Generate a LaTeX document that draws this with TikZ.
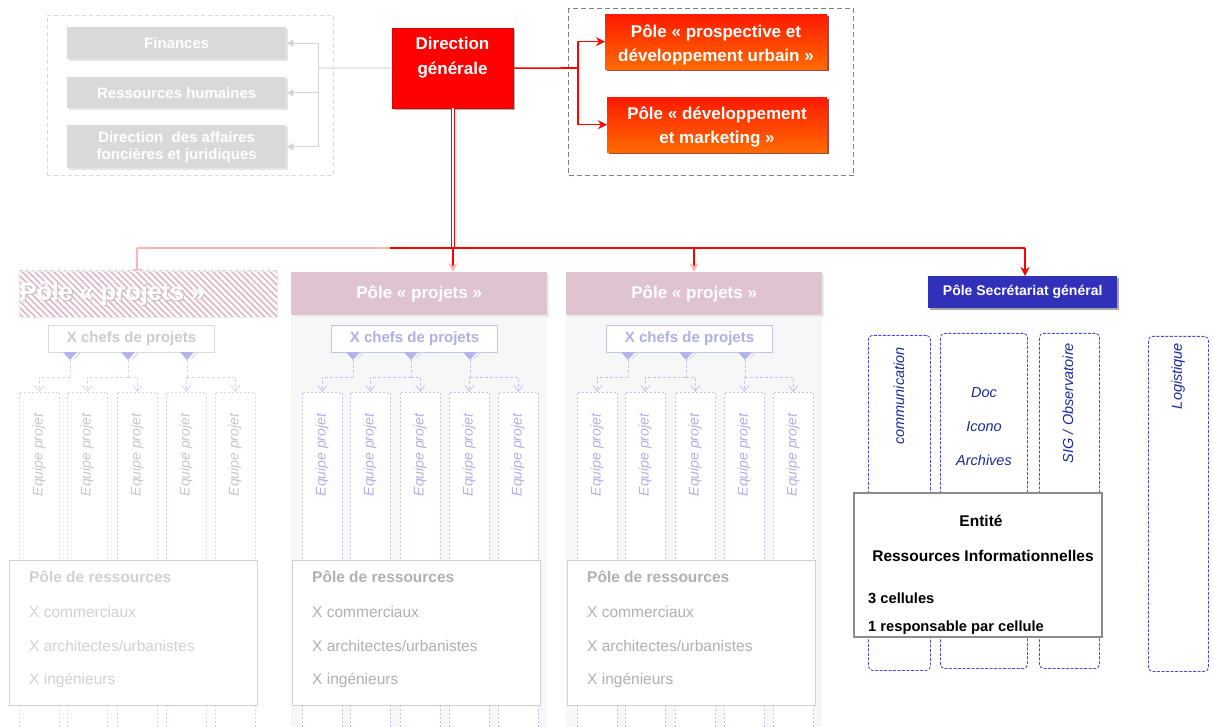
\documentclass[tikz,border=0pt]{standalone}
\usepackage{fontspec}
\setmainfont{Liberation Sans}
\usetikzlibrary{arrows.meta,shadows,patterns.meta}
\definecolor{grayfill}{HTML}{D9D9D9}
\definecolor{dgred}{HTML}{FF0000}
\definecolor{ored}{HTML}{FF1A00}
\definecolor{oorange}{HTML}{FF6A00}
\definecolor{pinkhead}{HTML}{DFC3D0}
\definecolor{pinkhatch}{HTML}{E2B8C8}
\definecolor{pinkline}{HTML}{FFB4B4}
\definecolor{panelbg}{HTML}{F7F7F7}
\definecolor{lavtxt}{HTML}{B0B0E4}
\definecolor{lavline}{HTML}{C4C4F0}
\definecolor{lavtri}{HTML}{B4B4EA}
\definecolor{lavpale}{HTML}{D6D6F4}
\definecolor{sgblue}{HTML}{3030B8}
\definecolor{colblue}{HTML}{4A4AE0}
\definecolor{txtblue}{HTML}{1A2A9A}
\tikzset{
  gbox/.style={fill=grayfill, text=white, font=\bfseries\fontsize{15}{17}\selectfont, align=center,
    anchor=north west, minimum width=219pt, inner sep=0pt,
    drop shadow={shadow xshift=1.5pt, shadow yshift=-1.5pt, fill=black!10, opacity=1}},
  dgbox/.style={fill=dgred, draw=red!85!black, anchor=north west, minimum width=121pt,
    minimum height=80pt, inner sep=0pt,
    drop shadow={shadow xshift=2pt, shadow yshift=-2pt, fill=black!30, opacity=1}},
  dgtext/.style={text=white, font=\bfseries\fontsize{17}{25}\selectfont, align=center, inner sep=0pt},
  obox/.style={top color=ored, bottom color=oorange, anchor=north west, minimum height=55pt, inner sep=0pt,
    drop shadow={shadow xshift=2pt, shadow yshift=-2pt, fill=red!45!black, opacity=.7}},
  otext/.style={text=white, font=\bfseries\fontsize{17}{24}\selectfont, align=center, inner sep=0pt},
  phead/.style={fill=pinkhead, text=white, font=\bfseries\fontsize{17}{20}\selectfont,
    anchor=north west, minimum width=256pt, minimum height=43pt, inner sep=0pt,
    drop shadow={shadow xshift=1.5pt, shadow yshift=-1.5pt, fill=black!8, opacity=1}},
  chefbox/.style={fill=white, line width=1pt, font=\bfseries\fontsize{15}{17}\selectfont,
    anchor=north west, minimum width=166pt, minimum height=27pt, inner sep=0pt},
  eqcol/.style={fill=white, anchor=north west, minimum width=40pt, minimum height=335pt, inner sep=0pt,
    dash pattern=on 2pt off 2pt, line width=0.7pt},
  eqtxt/.style={rotate=90, font=\itshape\fontsize{14}{16}\selectfont, inner sep=0pt},
  dcon/.style={dash pattern=on 3pt off 2pt, line width=0.8pt},
  resbox/.style={fill=white, draw=black!18, line width=1.2pt, anchor=north west,
    minimum width=248pt, minimum height=145pt, inner sep=0pt},
  restitle/.style={anchor=west, inner sep=0pt, font=\bfseries\fontsize{15.5}{17}\selectfont},
  resitem/.style={anchor=west, inner sep=0pt, font=\fontsize{15.5}{17}\selectfont},
  sgcol/.style={anchor=north west, draw=colblue, dash pattern=on 3pt off 1.5pt, line width=0.8pt,
    rounded corners=4pt, inner sep=0pt, minimum height=335pt},
  sgtxt/.style={text=txtblue, font=\itshape\fontsize{14.5}{16}\selectfont, inner sep=0pt},
  garrow/.style={draw=black!17, line width=1pt, -{Latex[length=7pt,width=8pt]}},
  rarrow/.style={draw=red, line width=1.6pt, -{Stealth[length=9pt,width=9pt]}},
}
\newcommand\ProjPanel[7]{%
  \node[chefbox, draw=#6, text=#7] (chefs#1) at ({331+#2},325) {X chefs de projets};
  \foreach \ti/\tx in {1/353,2/411,3/470}{
    \fill[lavtri] ({\tx+#2-7},352) -- ({\tx+#2+7},352) -- ({\tx+#2},360) -- cycle;
    \draw[black!13, line width=1.3pt] ({\tx+#2+4},359) -- ({\tx+#2+11},352);
    \coordinate (t#1\ti) at ({\tx+#2},360);
    \coordinate (j#1\ti) at ({\tx+#2},377);
  }
  \foreach \ci/\cx in {1/302,2/350,3/400,4/449,5/498}{
    \node[eqcol, draw=#4] (eq#1\ci) at ({\cx+#2},392) {};
    \node[eqtxt, text=#3] (eqt#1\ci) at ({\cx+#2+20},455) {Equipe projet};
  }
  \draw[dcon, draw=#4] (t#11) -- (j#11);
  \draw[dcon, draw=#4, -{Straight Barb[length=6pt,width=9pt]}] (j#11) -| (eq#11.north);
  \draw[dcon, draw=#4] (t#12) -- (j#12);
  \draw[dcon, draw=#4, -{Straight Barb[length=6pt,width=9pt]}] (j#12) -| (eq#12.north);
  \draw[dcon, draw=#4, -{Straight Barb[length=6pt,width=9pt]}] (j#12) -| (eq#13.north);
  \draw[dcon, draw=#4] (t#13) -- (j#13);
  \draw[dcon, draw=#4, -{Straight Barb[length=6pt,width=9pt]}] (j#13) -| (eq#14.north);
  \draw[dcon, draw=#4, -{Straight Barb[length=6pt,width=9pt]}] (j#13) -| (eq#15.north);
  \node[resbox] (res#1) at ({292+#2},560) {};
  \node[restitle, text=#5] (rt#1) at ({312+#2},577) {Pôle de ressources};
  \node[resitem, text=#5] (rc#1) at ({312+#2},612) {X commerciaux};
  \node[resitem, text=#5] (ra#1) at ({312+#2},646) {X architectes/urbanistes};
  \node[resitem, text=#5] (ri#1) at ({312+#2},680) {X ingénieurs};
}
\begin{document}
\begin{tikzpicture}[x=1pt,y=-1pt]
\useasboundingbox (0,0) rectangle (1213,727);
\fill[white] (0,0) rectangle (1213,727);

% ---------- left support group ----------
\node[draw=black!15, dash pattern=on 4pt off 3pt, line width=0.8pt, anchor=north west,
  minimum width=286pt, minimum height=160pt, inner sep=0pt] (grpl) at (47,15) {};
\node[gbox, minimum height=32pt] (fin) at (67,27) {Finances};
\node[gbox, minimum height=31pt] (rh) at (67,77) {Ressources humaines};
\node[gbox, minimum height=43pt, font=\bfseries\fontsize{15}{17}\selectfont] (daf) at (67,125)
  {Direction~ des affaires\\foncières et juridiques};

% ---------- direction générale ----------
\node[dgbox] (dg) at (392,28) {};
\node[dgtext] (dgt) at (452.5,58) {Direction\\générale};
\coordinate (jl) at (318,68);
\draw[draw=black!17, line width=1pt] (dg.west) -- (jl);
\draw[garrow] (jl) |- (fin.east);
\draw[garrow] (jl) |- (rh.east);
\draw[garrow] (jl) |- (daf.east);

% ---------- right poles ----------
\node[draw=black!50, dash pattern=on 5pt off 3pt, line width=1.2pt, anchor=north west,
  minimum width=285pt, minimum height=167pt, inner sep=0pt] (grpr) at (568,8) {};
\node[obox, minimum width=222pt] (pp1) at (605,14) {};
\node[otext] (pp1t) at (716,45) {Pôle « prospective et\\développement urbain »};
\node[obox, minimum width=220pt] (pp2) at (607,97) {};
\node[otext] (pp2t) at (717,127) {Pôle « développement\\et marketing »};
\coordinate (jr) at (578,68);
\draw[red, line width=1.6pt] (dg.east) -- (jr);
\draw[rarrow] (jr) |- (pp1.west);
\draw[rarrow] (jr) |- (pp2.west);

% ---------- panels backgrounds & headers ----------
\fill[panelbg] (291,315) rectangle (547,727);
\fill[panelbg] (566,315) rectangle (822,727);
\node[anchor=north west, minimum width=258pt, minimum height=46pt, inner sep=0pt,
  pattern={Lines[angle=-45,distance=4.5pt,line width=1.7pt]}, pattern color=pinkhatch,
  draw=black!8] (h1) at (18,270) {};
\node[anchor=west, inner sep=0pt, text=black!25, font=\bfseries\fontsize{25}{28}\selectfont]
  (h1s) at ([xshift=3pt,yshift=-1pt]h1.west) {Pôle « projets »};
\node[anchor=west, inner sep=0pt, text=white, font=\bfseries\fontsize{25}{28}\selectfont]
  (h1t) at ([xshift=2pt]h1.west) {Pôle « projets »};
\node[phead] (h2) at (291,272) {Pôle « projets »};
\node[phead] (h3) at (566,272) {Pôle « projets »};
\node[fill=sgblue, text=white, font=\bfseries\fontsize{14}{16}\selectfont, anchor=north west,
  minimum width=189pt, minimum height=32pt, inner sep=0pt,
  drop shadow={shadow xshift=2pt, shadow yshift=-2pt, fill=black!35, opacity=1}]
  (sg) at (928,276) {Pôle Secrétariat général};

% ---------- distribution bar ----------
\coordinate (jb) at (453,248);
\coordinate (b1) at (137,248);
\coordinate (bm) at (390,248);
\coordinate (b3) at (694,248);
\coordinate (b4) at (1025,248);
\draw[red, line width=1pt, double=white, double distance=1.6pt] (dg.south -| jb) -- (jb);
\draw[pinkline, line width=1.4pt] (bm) -- (b1);
\draw[pinkline, line width=1.4pt, -{Bar[width=10pt,line width=1.4pt]}] (b1) -- (b1 |- h1.north);
\draw[red, line width=2.5pt] (bm) -- (b4);
\draw[red, line width=1.4pt, -{Stealth[length=9pt,width=9pt,color=pinkline,fill=pinkline]}] (jb) -- (jb |- h2.north);
\draw[red, line width=1.4pt, -{Stealth[length=9pt,width=9pt,color=pinkline,fill=pinkline]}] (b3) -- (b3 |- h3.north);
\draw[rarrow] (b4) -- (b4 |- sg.north);

% ---------- project panels ----------
\ProjPanel{1}{-283}{black!22}{lavpale}{black!18}{black!14}{black!20}
\ProjPanel{2}{0}{lavtxt}{lavline}{black!31}{lavline}{lavtxt}
\ProjPanel{3}{275}{lavtxt}{lavline}{black!31}{lavline}{lavtxt}

% ---------- secretariat columns ----------
\node[sgcol, minimum width=62pt] (com) at (868,335) {};
\node[sgcol, minimum width=87pt] (doc) at (940,333) {};
\node[sgcol, minimum width=60pt] (sig) at (1039,333) {};
\node[sgcol, minimum width=60pt] (log) at (1148,336) {};
\node[sgtxt, rotate=90] (comt) at (899,396) {communication};
\node[sgtxt] (doct) at (984,393) {Doc};
\node[sgtxt] (icot) at (984,427) {Icono};
\node[sgtxt] (arct) at (984,460) {Archives};
\node[sgtxt, rotate=90] (sigt) at (1068,403) {SIG / Observatoire};
\node[sgtxt, rotate=90] (logt) at (1178,376) {Logistique};

% ---------- entité box ----------
\node[fill=white, draw=black!45, line width=1.5pt, anchor=north west, minimum width=248pt,
  minimum height=144pt, inner sep=0pt] (ent) at (853,492) {};
\node[font=\bfseries\fontsize{15.5}{17}\selectfont, inner sep=0pt] (entt) at (981,521) {Entité};
\node[font=\bfseries\fontsize{15.5}{17}\selectfont, inner sep=0pt] (entr) at (983,556) {Ressources Informationnelles};
\node[font=\bfseries\fontsize{14.7}{17}\selectfont, anchor=west, inner sep=0pt] (ent3) at (868,598) {3 cellules};
\node[font=\bfseries\fontsize{14.7}{17}\selectfont, anchor=west, inner sep=0pt] (ent1) at (868,628) {1 responsable par cellule};
\end{tikzpicture}
\end{document}
